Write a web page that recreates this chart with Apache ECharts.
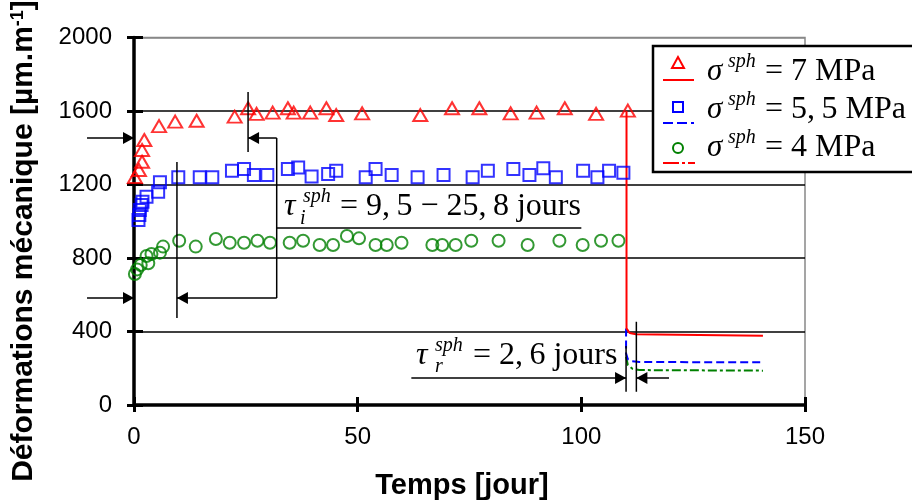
<!DOCTYPE html>
<html><head><meta charset="utf-8">
<script src="https://cdn.jsdelivr.net/npm/echarts@6/dist/echarts.min.js"></script>
<style>html,body{margin:0;padding:0;background:#fff}#c{width:912px;height:504px}</style>
</head><body><div id="c"></div>
<script>
// ---- axis ticks
const xTicks = [0, 50, 100, 150];
const yTicks = [0, 400, 800, 1200, 1600, 2000];
// ---- sigma = 7 MPa (triangles)
const days7 = [0.2,1.1,1.8,1.8,2.3,5.6,9.2,14,22.5,25.5,27.4,31,34.4,35.7,39.4,43,45.2,51,64,71.1,77.2,84.2,90,96.3,103.3,110.4];
const vals7 = [1241,1279,1324,1388,1442,1518,1542,1547,1569,1615,1584,1591,1615,1591,1591,1615,1578,1587,1578,1615,1615,1587,1591,1615,1584,1602];
// ---- sigma = 5,5 MPa (squares)
const days55 = [1.0,1.2,1.3,1.7,1.9,2.8,5.4,5.8,9.9,14.7,17.5,21.9,24.6,26.8,29.8,34.4,36.7,39.7,43.4,45.2,51.8,54,57.6,63.4,69.2,75.7,79.1,84.8,88.4,91.5,94.3,100.4,103.6,106.2,109.4];
const vals55 = [1007,1034,1061,1088,1106,1134,1161,1212,1239,1239,1239,1275,1284,1252,1252,1284,1293,1243,1257,1275,1239,1284,1252,1239,1252,1239,1275,1284,1252,1288,1239,1275,1239,1275,1264];
// ---- sigma = 4 MPa (circles)
const days4 = [0.2,0.7,1.5,2.8,3.2,3.9,5.8,6.5,10.1,13.8,18.3,21.4,24.6,27.6,30.4,34.8,37.8,41.5,44.5,47.6,50.3,54,56.5,59.8,66.7,68.9,71.9,75.4,81.5,88,95.1,100.3,104.4,108.3];
const vals4 = [713,738,762,811,771,822,829,862,894,862,903,883,883,894,883,883,894,871,871,920,907,871,871,883,871,871,871,894,894,871,894,871,894,894];
// ---- unloading curves
const unDays7 = [110.1,110.1,110.8,112.2,140.6];
const unVals7 = [1602,417,392,385,377];
const unDays55 = [110.0,110.0,110.4,111.3,113,140.6];
const unVals55 = [417,281,249,238,234,232];
const unDays4 = [110.0,110.4,111.5,113,140.6];
const unVals4 = [263,218,196,190,187];
// ---- annotation levels (data units)
const tauI = [9.6, 25.5];
const tauR = [110.0, 112.3];
const arrowLevels = [1453, 582];
// ---- legend labels
const legendLabels = ['7 MPa', '5,\u20095 MPa', '4 MPa'];

const zip = (a, b) => a.map((v, i) => [v, b[i]]);
const chart = echarts.init(document.getElementById('c'), null, {renderer: 'canvas'});
const SANS = '"Liberation Sans", Arial, sans-serif';
const SERIF = '"Liberation Serif", "Times New Roman", serif';

const baseY = {type: 'value', min: yTicks[0], max: yTicks[yTicks.length - 1], interval: yTicks[1] - yTicks[0]};
const baseX = {type: 'value', min: xTicks[0], max: xTicks[xTicks.length - 1], interval: xTicks[1] - xTicks[0]};

chart.setOption({
  animation: false,
  backgroundColor: '#fff',
  grid: {left: 134, right: 107, top: 37.5, bottom: 99, show: true, borderColor: '#888', borderWidth: 1.5, backgroundColor: 'transparent'},
  xAxis: [
    Object.assign({}, baseX, {
      position: 'bottom',
      axisLine: {lineStyle: {color: '#000', width: 3.5}},
      axisTick: {show: true, inside: false, length: 7, lineStyle: {color: '#000', width: 3}},
      axisLabel: {color: '#000', fontSize: 24, fontFamily: SANS, margin: 20, formatter: v => String(v)},
      splitLine: {show: false}
    }),
    Object.assign({}, baseX, {
      position: 'bottom',
      axisLine: {show: false},
      axisTick: {show: true, inside: true, length: 8, lineStyle: {color: '#000', width: 3}},
      axisLabel: {show: false},
      splitLine: {show: false}
    })
  ],
  yAxis: [
    Object.assign({}, baseY, {
      position: 'left',
      axisLine: {show: true, lineStyle: {color: '#000', width: 3.5}},
      axisTick: {show: true, inside: false, length: 7, lineStyle: {color: '#000', width: 3}},
      axisLabel: {color: '#000', fontSize: 24, fontFamily: SANS, margin: 22, formatter: v => String(v)},
      splitLine: {show: true, lineStyle: {color: ['#000','#000','#000','#000','#000','#888'], width: 1.5}}
    }),
    Object.assign({}, baseY, {
      position: 'left',
      axisLine: {show: false},
      axisTick: {show: true, inside: true, length: 9, lineStyle: {color: '#000', width: 3}},
      axisLabel: {show: false},
      splitLine: {show: false}
    })
  ],
  series: [
    {name: 'g4', type: 'line', data: zip(unDays4, unVals4), showSymbol: false, symbol: 'none', z: 3,
      lineStyle: {color: '#008000', width: 2, type: [9, 3, 3, 3]}},
    {name: 'g55', type: 'line', data: zip(unDays55, unVals55), showSymbol: false, symbol: 'none', z: 4,
      lineStyle: {color: '#0000ff', width: 2, type: [8, 4]}},
    {name: 'g7', type: 'line', data: zip(unDays7, unVals7), showSymbol: false, symbol: 'none', z: 5,
      lineStyle: {color: '#ff0000', width: 2}},
    {name: 's4', type: 'scatter', data: zip(days4, vals4), symbol: 'circle', symbolSize: 12, z: 6,
      itemStyle: {color: 'rgba(255,255,255,0)', borderColor: '#008000', borderWidth: 2}},
    {name: 's55', type: 'scatter', data: zip(days55, vals55), symbol: 'rect', symbolSize: 12, z: 7,
      itemStyle: {color: 'rgba(255,255,255,0)', borderColor: '#0000ff', borderWidth: 2}},
    {name: 's7', type: 'scatter', data: zip(days7, vals7), symbol: 'triangle', symbolSize: [14, 12], z: 8,
      itemStyle: {color: 'rgba(255,255,255,0)', borderColor: '#ff0000', borderWidth: 2}}
  ]
});

// ---- annotations computed from data coordinates
const P = (x, y) => chart.convertToPixel({gridIndex: 0}, [x, y]);
const g = [];
const LW = 1.5;
function line(a, b) { g.push({type: 'line', z: 50, shape: {x1: a[0], y1: a[1], x2: b[0], y2: b[1]}, style: {stroke: '#000', lineWidth: LW}}); }
function head(tip, dir) {
  const L = 11, H = 6;
  g.push({type: 'polygon', z: 51, shape: {points: [[tip[0], tip[1]], [tip[0] - dir * L, tip[1] - H], [tip[0] - dir * L, tip[1] + H]]}, style: {fill: '#000'}});
}
function txt(x, y, text, font, z) {
  g.push({type: 'text', z: z || 60, x: x, y: y,
    style: {text: text, font: font, fill: '#000', align: 'left', textAlign: 'left', verticalAlign: 'middle', textVerticalAlign: 'middle'}});
}
const yA = arrowLevels[0], yB = arrowLevels[1];
line(P(-10.5, yA), P(0, yA)); head(P(0, yA), 1);
line(P(tauI[1], yA), P(31.9, yA)); head(P(tauI[1], yA), -1);
line(P(31.9, yA), P(31.9, yB));
line(P(31.9, yB), P(tauI[0], yB)); head(P(tauI[0], yB), -1);
line(P(-10.5, yB), P(0, yB)); head(P(0, yB), 1);
line(P(tauI[1], 1703), P(tauI[1], 1377));
line(P(tauI[0], 1322), P(tauI[0], 473));
line(P(31.9, 963), P(100, 963));
line(P(62, 147), P(tauR[0], 147)); head(P(tauR[0], 147), 1);
line(P(tauR[0], 321), P(tauR[0], 72));
line(P(tauR[1], 453), P(tauR[1], 72));
line(P(tauR[1], 147), P(119.6, 147)); head(P(tauR[1], 147), -1);

const IT32 = 'italic 32px ' + SERIF, IT20 = 'italic 20px ' + SERIF, R32 = '32px ' + SERIF;
txt(284, 207, 'τ', IT32);
txt(303, 197, 'sph', IT20);
txt(300, 219, 'i', IT20);
txt(340, 207, '= 9,\u20095 − 25,\u20098 jours', R32);
txt(416, 356, 'τ', IT32);
txt(435, 346, 'sph', IT20);
txt(435, 367, 'r', IT20);
txt(473, 356, '= 2,\u20096 jours', R32);

// legend
g.push({type: 'rect', z: 70, shape: {x: 653, y: 46, width: 280, height: 126}, style: {fill: '#fff', stroke: '#000', lineWidth: 2.5}});
const lgX = 678;
g.push({type: 'polygon', z: 71, shape: {points: [[lgX, 57], [lgX - 6, 68], [lgX + 6, 68]]}, style: {fill: 'none', stroke: '#ff0000', lineWidth: 2}});
g.push({type: 'line', z: 71, shape: {x1: 663, y1: 80, x2: 694, y2: 80}, style: {stroke: '#ff0000', lineWidth: 2}});
g.push({type: 'rect', z: 71, shape: {x: lgX - 5, y: 102, width: 10, height: 10}, style: {fill: 'none', stroke: '#0000ff', lineWidth: 2}});
g.push({type: 'line', z: 71, shape: {x1: 663, y1: 123, x2: 694, y2: 123}, style: {stroke: '#0000ff', lineWidth: 2, lineDash: [10, 4]}});
g.push({type: 'circle', z: 71, shape: {cx: lgX, cy: 148, r: 5}, style: {fill: 'none', stroke: '#008000', lineWidth: 2}});
g.push({type: 'line', z: 71, shape: {x1: 663, y1: 163, x2: 695, y2: 163}, style: {stroke: '#ff0000', lineWidth: 2, lineDash: [16, 3, 3, 3]}});
const rowsY = [72, 110, 148];
legendLabels.forEach((lab, i) => {
  const y = rowsY[i];
  txt(707, y, 'σ', 'italic 31px ' + SERIF, 72);
  txt(728, y - 10, 'sph', 'italic 20px ' + SERIF, 72);
  txt(765, y, '= ' + lab, '32px ' + SERIF, 72);
});

// axis titles
g.push({type: 'text', z: 80, x: 24, y: 241, rotation: Math.PI / 2,
  style: {text: '{a|Déformations mécanique [µm.m}{s|-1}{a|]}', fill: '#000', align: 'center', textAlign: 'center', verticalAlign: 'middle', textVerticalAlign: 'middle',
    rich: {a: {font: 'bold 30px ' + SANS, fill: '#000'}, s: {font: 'bold 18px ' + SANS, fill: '#000', verticalAlign: 'top'}}}});
g.push({type: 'text', z: 80, x: 462, y: 486,
  style: {text: 'Temps [jour]', font: 'bold 29px ' + SANS, fill: '#000', align: 'center', textAlign: 'center', verticalAlign: 'middle', textVerticalAlign: 'middle'}});

chart.setOption({graphic: {elements: g}});
</script>
</body></html>
